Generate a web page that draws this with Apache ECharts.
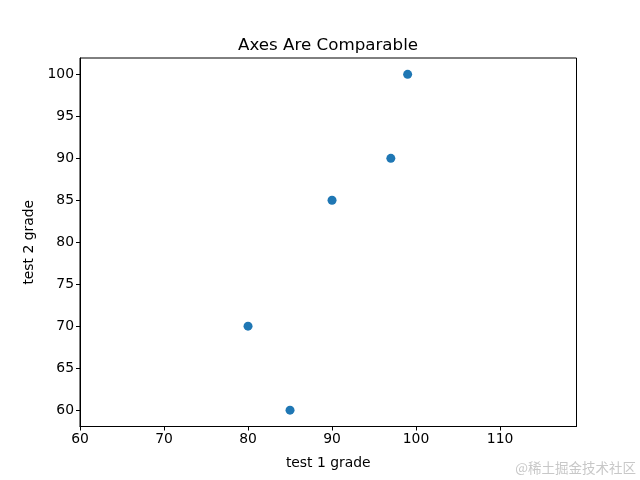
<!DOCTYPE html>
<html><head><meta charset="utf-8">
<script src="https://cdn.jsdelivr.net/npm/echarts@6/dist/echarts.min.js"></script>
<style>html,body{margin:0;padding:0;background:#fff}#c{width:640px;height:480px}</style>
</head><body><div id="c"></div>
<script>
const test1 = [99, 97, 90, 80, 85];
const test2 = [100, 90, 85, 70, 60];
const xTicks = [60, 70, 80, 90, 100, 110];
const yTicks = [60, 65, 70, 75, 80, 85, 90, 95, 100];
const title = 'Axes Are Comparable';
const xName = 'test 1 grade';
const yName = 'test 2 grade';
const watermark = '@稀土掘金技术社区';

const font = 'DejaVu Sans';
const chart = echarts.init(document.getElementById('c'), null, {renderer: 'canvas'});
const axisCommon = {
  axisLine: {show: true, onZero: false, lineStyle: {color: '#000', width: 1}},
  axisTick: {show: true, inside: false, length: 4, lineStyle: {color: '#000', width: 1}},
  splitLine: {show: false},
  axisLabel: {color: '#000', fontFamily: font, fontSize: 13.9, margin: 6},
  nameTextStyle: {color: '#000', fontFamily: font, fontSize: 13.9}
};
chart.setOption({
  animation: false,
  backgroundColor: '#fff',
  title: {text: title, left: 233, top: 32, textStyle: {fontFamily: font, fontSize: 16.7, fontWeight: 'normal', color: '#000'}},
  grid: {left: 80, right: 63.5, top: 58, bottom: 53.5, show: true, borderColor: '#000', borderWidth: 1, backgroundColor: 'transparent'},
  xAxis: Object.assign({}, axisCommon, {
    type: 'value', min: 60, max: 119.1,
    name: xName, nameLocation: 'middle', nameGap: 30,
    axisTick: Object.assign({}, axisCommon.axisTick, {customValues: xTicks}),
    axisLabel: Object.assign({}, axisCommon.axisLabel, {customValues: xTicks})
  }),
  yAxis: Object.assign({}, axisCommon, {
    type: 'value', min: 58.05, max: 101.95,
    name: yName, nameLocation: 'middle', nameGap: 44,
    axisTick: Object.assign({}, axisCommon.axisTick, {customValues: yTicks}),
    axisLabel: Object.assign({}, axisCommon.axisLabel, {customValues: yTicks})
  }),
  graphic: [{type: 'text', right: 4, bottom: 5, style: {text: watermark, fill: '#c8c8c8', font: '13.5px "Noto Sans CJK SC"'}}],
  series: [{
    type: 'scatter', symbol: 'circle', symbolSize: 9,
    itemStyle: {color: '#1f77b4', opacity: 1},
    data: test1.map((x, i) => [x, test2[i]])
  }]
});
</script></body></html>
